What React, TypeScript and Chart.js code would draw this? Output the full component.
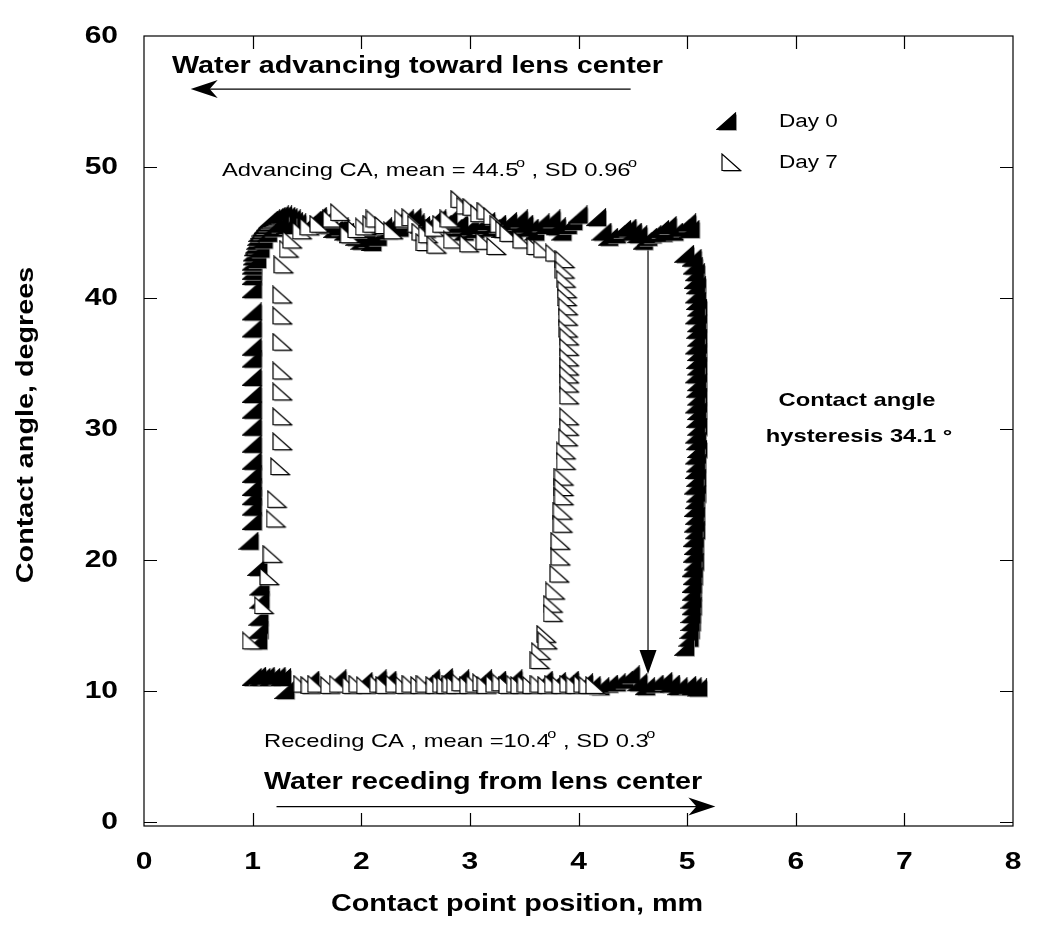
import React, { useEffect, useRef } from "react";
import { Chart, registerables } from "chart.js";

Chart.register(...registerables);

const xTicks = [0, 1, 2, 3, 4, 5, 6, 7, 8];
const yTicks = [0, 10, 20, 30, 40, 50, 60];
const seriesNames = ["Day 0", "Day 7"];

// Day 0 (filled markers)
const day0Left: [number, number][] = [
  [1.0, 41.6], [1.0, 42.0], [1.0, 42.4], [1.0, 42.7], [1.01, 43.1], [1.01, 43.4], [1.02, 43.8],
  [1.03, 44.0], [1.04, 44.3], [1.05, 44.6], [1.06, 44.9], [1.08, 45.1], [1.09, 45.3], [1.11, 45.5],
  [1.13, 45.7], [1.15, 45.9], [1.17, 46.0], [1.2, 46.1], [1.22, 46.2], [1.25, 46.3], [1.28, 46.3],
  [1.31, 46.2], [1.33, 46.1], [1.36, 46.0], [1.38, 45.8], [1.41, 45.7],
  [1.04, 42.9], [1.07, 43.7], [1.1, 44.4], [1.14, 44.9], [1.19, 45.3], [1.25, 45.6], [1.32, 45.5],
  [1.0, 40.6], [1.0, 38.9], [1.0, 37.6], [1.0, 36.2], [1.0, 35.3], [1.0, 33.9], [1.0, 32.6],
  [1.0, 31.4], [1.0, 30.1], [1.0, 28.8], [1.0, 27.5], [1.0, 26.5], [1.0, 25.5], [1.0, 24.8],
  [1.0, 24.0], [1.0, 22.9], [0.97, 21.4], [1.05, 19.4], [1.07, 17.9], [1.07, 16.9], [1.06, 15.6],
  [1.06, 14.6], [1.05, 13.8],
];
const day0Top: [number, number][] = [
  [1.5, 45.5], [1.55, 45.9], [1.6, 46.2], [1.65, 45.8], [1.7, 45.5], [1.75, 45.2], [1.8, 45.4],
  [1.85, 45.0], [1.9, 44.8], [1.95, 44.6], [2.0, 44.3], [2.05, 44.5], [2.1, 44.2], [2.15, 44.6],
  [2.2, 45.4], [2.25, 45.1], [2.3, 45.7], [2.35, 45.3], [2.4, 46.0], [2.47, 46.1], [2.5, 45.7],
  [2.55, 45.5], [2.6, 45.2], [2.65, 45.8], [2.7, 46.0], [2.75, 45.6], [2.8, 45.9], [2.85, 45.3],
  [2.9, 45.6], [2.95, 45.0], [3.0, 45.4], [3.05, 45.2], [3.1, 45.5], [3.15, 45.8], [3.2, 45.3],
  [3.25, 45.6], [3.3, 45.2], [3.35, 45.8], [3.4, 45.1], [3.45, 46.0], [3.5, 45.6], [3.55, 45.3],
  [3.6, 45.0], [3.65, 45.7], [3.7, 45.5], [3.75, 46.0], [3.8, 45.4], [3.85, 45.0], [3.9, 45.5],
  [3.95, 45.8], [4.0, 46.3],
  [4.17, 46.1], [4.22, 45.0], [4.28, 44.6], [4.35, 44.8], [4.4, 45.2], [4.45, 45.3], [4.5, 45.0],
  [4.55, 44.8], [4.6, 44.3], [4.64, 44.6], [4.68, 44.8], [4.75, 45.2], [4.78, 44.9], [4.82, 45.5],
  [4.88, 45.0], [4.95, 45.3], [5.0, 45.7], [5.03, 45.2],
];
const day0Right: [number, number][] = [
  [4.98, 43.3], [5.05, 43.0], [5.06, 42.4], [5.08, 41.9], [5.07, 41.3], [5.09, 40.9], [5.08, 40.2],
  [5.09, 39.7], [5.1, 39.2], [5.08, 38.6], [5.1, 38.0], [5.09, 37.5], [5.1, 36.9], [5.08, 36.3],
  [5.1, 35.8], [5.09, 35.2], [5.1, 34.7], [5.08, 34.1], [5.1, 33.5], [5.09, 33.0], [5.1, 32.4],
  [5.08, 31.8], [5.1, 31.3], [5.09, 30.7], [5.1, 30.1], [5.08, 29.5], [5.09, 29.0], [5.1, 28.4],
  [5.08, 27.9], [5.09, 27.3], [5.08, 26.8], [5.09, 26.2], [5.07, 25.6], [5.09, 25.0], [5.08, 24.5],
  [5.07, 23.9], [5.08, 23.3], [5.07, 22.7], [5.08, 22.2], [5.06, 21.6], [5.07, 21.0], [5.06, 20.4],
  [5.07, 19.8], [5.05, 19.3], [5.06, 18.7], [5.05, 18.1], [5.05, 17.5], [5.04, 16.9], [5.05, 16.4],
  [5.04, 15.8], [5.04, 15.2], [5.03, 14.6], [5.02, 14.0], [4.98, 13.3],
];
const day0Bottom: [number, number][] = [
  [1.0, 11.0], [1.04, 11.1], [1.08, 11.0], [1.12, 11.1], [1.17, 11.0], [1.22, 11.1], [1.27, 11.0],
  [1.3, 10.0], [1.53, 10.8], [1.78, 10.9], [2.02, 10.7], [2.15, 10.9], [2.24, 10.8], [2.64, 10.9],
  [2.76, 11.0], [2.91, 10.9], [3.12, 10.9], [3.25, 10.8], [3.4, 10.9], [3.68, 10.8], [3.8, 10.7],
  [3.92, 10.8], [4.05, 10.6], [4.12, 10.4], [4.2, 10.3], [4.28, 10.5], [4.35, 10.6], [4.42, 10.8],
  [4.48, 11.2], [4.55, 10.6], [4.62, 10.3], [4.7, 10.5], [4.78, 10.7], [4.85, 10.5], [4.92, 10.3],
  [5.0, 10.4], [5.05, 10.3], [5.1, 10.2],
];

// Day 7 (open markers)
const day7Left: [number, number][] = [
  [1.0, 13.8], [1.11, 16.5], [1.16, 18.7], [1.19, 20.4], [1.22, 23.1], [1.23, 24.6], [1.26, 27.1],
  [1.28, 29.0], [1.28, 30.9], [1.28, 32.8], [1.28, 34.4], [1.28, 36.6], [1.28, 38.6], [1.28, 40.2],
  [1.29, 42.5],
];
const day7Top: [number, number][] = [
  [1.34, 43.7], [1.37, 44.4], [1.46, 45.1], [1.53, 45.4], [1.62, 45.6], [1.74, 46.0], [1.81, 46.5],
  [1.9, 44.8], [1.97, 45.2], [2.04, 45.4], [2.11, 45.6], [2.14, 46.0], [2.22, 45.5], [2.3, 45.1],
  [2.4, 46.0], [2.47, 46.1], [2.52, 45.6], [2.56, 45.0], [2.6, 44.2], [2.62, 44.8], [2.68, 45.3],
  [2.7, 44.0], [2.75, 45.6], [2.82, 46.0], [2.85, 44.4], [2.92, 47.5], [2.97, 47.0], [3.0, 44.1],
  [3.03, 46.9], [3.1, 46.4], [3.15, 44.3], [3.16, 46.6], [3.22, 46.2], [3.25, 43.9], [3.28, 45.6],
  [3.33, 45.2], [3.37, 44.9], [3.49, 44.4], [3.62, 43.9], [3.68, 43.7], [3.79, 43.4], [3.88, 42.9],
];
const day7Right: [number, number][] = [
  [3.88, 42.1], [3.89, 41.4], [3.9, 40.6], [3.9, 40.0], [3.91, 39.3], [3.91, 38.5], [3.91, 37.6],
  [3.92, 37.0], [3.92, 36.2], [3.92, 35.4], [3.92, 34.7], [3.92, 34.1], [3.92, 33.4], [3.92, 32.5],
  [3.92, 30.9], [3.92, 30.1], [3.91, 29.3], [3.89, 28.3], [3.89, 27.5], [3.87, 26.3], [3.87, 25.5],
  [3.87, 24.8], [3.86, 23.7], [3.86, 22.7], [3.84, 21.4], [3.84, 20.2], [3.83, 18.9], [3.79, 17.6],
  [3.77, 16.6], [3.77, 15.9], [3.71, 14.3], [3.72, 13.8], [3.66, 13.0], [3.65, 12.3],
];
const day7Bottom: [number, number][] = [
  [1.47, 10.5], [1.54, 10.4], [1.6, 10.5], [1.72, 10.4], [1.8, 10.5], [1.92, 10.4], [1.98, 10.5],
  [2.05, 10.4], [2.17, 10.5], [2.23, 10.4], [2.32, 10.5], [2.41, 10.4], [2.47, 10.5], [2.55, 10.4],
  [2.6, 10.5], [2.69, 10.4], [2.75, 10.5], [2.79, 10.4], [2.84, 10.5], [2.88, 10.4], [2.93, 10.6],
  [3.0, 10.4], [3.06, 10.5], [3.12, 10.6], [3.16, 10.4], [3.24, 10.5], [3.3, 10.6], [3.36, 10.4],
  [3.43, 10.5], [3.47, 10.4], [3.53, 10.5], [3.58, 10.4], [3.65, 10.5], [3.72, 10.4], [3.78, 10.5],
  [3.85, 10.4], [3.92, 10.5], [3.98, 10.4], [4.05, 10.5], [4.1, 10.4], [4.16, 10.4],
];

const FONT = "'Liberation Sans', Arial, Helvetica, sans-serif";
const SX = 1.25; // horizontal stretch of the reference lettering

function toPts(...groups: [number, number][][]) {
  const out: { x: number; y: number }[] = [];
  groups.forEach((g) => g.forEach(([x, y]) => out.push({ x, y })));
  return out;
}

function makeMarker(filled: boolean): HTMLCanvasElement {
  const c = document.createElement("canvas");
  c.width = 22;
  c.height = 20;
  const g = c.getContext("2d")!;
  const tri = filled
    ? [[19.5, 1], [19.5, 17.5], [1, 17.5]]
    : [[1, 1], [1, 17.5], [19.5, 17.5]];
  const path = (dx: number) => {
    g.beginPath();
    tri.forEach(([x, y], i) => (i ? g.lineTo(x + dx, y + dx) : g.moveTo(x + dx, y + dx)));
    g.closePath();
  };
  path(1.3);
  g.fillStyle = "#8c8c8c";
  g.fill();
  path(0);
  g.fillStyle = filled ? "#000" : "#fff";
  g.fill();
  g.strokeStyle = "#000";
  g.lineWidth = 1.2;
  g.stroke();
  return c;
}

function sText(
  ctx: CanvasRenderingContext2D, text: string, x: number, y: number, font: string,
  align: CanvasTextAlign = "left", baseline: CanvasTextBaseline = "middle", rot = 0,
) {
  ctx.save();
  ctx.translate(x, y);
  if (rot) ctx.rotate(rot);
  ctx.scale(SX, 1);
  ctx.font = font;
  ctx.textAlign = align;
  ctx.textBaseline = baseline;
  ctx.fillText(text, 0, 0);
  ctx.restore();
}

function drawSupText(ctx: CanvasRenderingContext2D, parts: { t: string; sup?: boolean }[], x: number, y: number, size: number) {
  ctx.save();
  ctx.translate(x, y);
  ctx.scale(SX, 1);
  let cx = 0;
  ctx.textBaseline = "alphabetic";
  ctx.textAlign = "left";
  parts.forEach((p) => {
    if (p.sup) {
      ctx.font = `${Math.round(size * 0.7)}px ${FONT}`;
      ctx.fillText(p.t, cx - 2, -size * 0.45);
      cx += ctx.measureText(p.t).width - 2;
    } else {
      ctx.font = `${size}px ${FONT}`;
      ctx.fillText(p.t, cx, 0);
      cx += ctx.measureText(p.t).width;
    }
  });
  ctx.restore();
}

function arrowHead(ctx: CanvasRenderingContext2D, tx: number, ty: number, dir: "left" | "right" | "down") {
  ctx.beginPath();
  if (dir === "left") {
    ctx.moveTo(tx, ty);
    ctx.lineTo(tx + 27, ty - 9);
    ctx.lineTo(tx + 19, ty);
    ctx.lineTo(tx + 27, ty + 9);
  } else if (dir === "right") {
    ctx.moveTo(tx, ty);
    ctx.lineTo(tx - 27, ty - 9);
    ctx.lineTo(tx - 19, ty);
    ctx.lineTo(tx - 27, ty + 9);
  } else {
    ctx.moveTo(tx, ty);
    ctx.lineTo(tx - 8.5, ty - 24);
    ctx.lineTo(tx + 8.5, ty - 24);
  }
  ctx.closePath();
  ctx.fill();
}

export default function App() {
  const ref = useRef<HTMLCanvasElement>(null);
  useEffect(() => {
    const m0 = makeMarker(true);
    const m7 = makeMarker(false);
    const decor = {
      id: "decor",
      beforeDatasetsDraw(chart: any) {
        const ctx: CanvasRenderingContext2D = chart.ctx;
        const { left, right, top, bottom } = chart.chartArea;
        const xs = chart.scales.x;
        const ys = chart.scales.y;
        ctx.save();
        ctx.strokeStyle = "#000";
        ctx.fillStyle = "#000";
        ctx.lineWidth = 1.2;
        ctx.strokeRect(left, top, right - left, bottom - top);
        const tl = 13;
        ctx.beginPath();
        xTicks.slice(1, -1).forEach((v) => {
          const px = Math.round(xs.getPixelForValue(v)) + 0.5;
          ctx.moveTo(px, bottom);
          ctx.lineTo(px, bottom - tl);
          ctx.moveTo(px, top);
          ctx.lineTo(px, top + tl);
        });
        yTicks.slice(0, -1).forEach((v) => {
          const py = Math.round(ys.getPixelForValue(v)) + 0.5;
          ctx.moveTo(left, py);
          ctx.lineTo(left + tl, py);
          ctx.moveTo(right, py);
          ctx.lineTo(right - tl, py);
        });
        ctx.stroke();
        // tick labels
        ctx.fillStyle = "#000";
        const tf = `bold 24px ${FONT}`;
        xTicks.forEach((v) => sText(ctx, String(v), xs.getPixelForValue(v), 862, tf, "center"));
        yTicks.forEach((v) => sText(ctx, String(v), 118, ys.getPixelForValue(v), tf, "right"));
        // axis titles
        sText(ctx, "Contact point position, mm", 517, 905, `bold 23px ${FONT}`, "center");
        sText(ctx, "Contact angle, degrees", 27, 425, `bold 23px ${FONT}`, "center", "middle", -Math.PI / 2);
        // arrows
        ctx.lineWidth = 1.2;
        const ay = ys.getPixelForValue(55.95);
        const a1 = xs.getPixelForValue(4.48);
        const a2 = xs.getPixelForValue(0.43);
        ctx.beginPath();
        ctx.moveTo(a1, ay);
        ctx.lineTo(a2 + 10, ay);
        ctx.stroke();
        arrowHead(ctx, a2, ay, "left");
        const by = ys.getPixelForValue(1.18);
        const b1 = xs.getPixelForValue(1.22);
        const b2 = xs.getPixelForValue(5.26);
        ctx.beginPath();
        ctx.moveTo(b1, by);
        ctx.lineTo(b2 - 10, by);
        ctx.stroke();
        arrowHead(ctx, b2, by, "right");
        const hx = xs.getPixelForValue(4.64);
        const h1 = ys.getPixelForValue(44);
        const h2 = ys.getPixelForValue(11.3);
        ctx.beginPath();
        ctx.moveTo(hx, h1);
        ctx.lineTo(hx, h2 - 10);
        ctx.stroke();
        arrowHead(ctx, hx, h2, "down");
        ctx.restore();
      },
      afterDraw(chart: any) {
        const ctx: CanvasRenderingContext2D = chart.ctx;
        ctx.save();
        ctx.fillStyle = "#000";
        sText(ctx, "Water advancing toward lens center", 172, 67, `bold 23px ${FONT}`);
        sText(ctx, "Water receding from lens center", 264, 783, `bold 23px ${FONT}`);
        drawSupText(ctx, [
          { t: "Advancing CA, mean = 44.5" }, { t: "o", sup: true }, { t: " , SD 0.96" }, { t: "o", sup: true },
        ], 222, 176, 19);
        drawSupText(ctx, [
          { t: "Receding CA , mean =10.4" }, { t: "o", sup: true }, { t: " , SD 0.3" }, { t: "o", sup: true },
        ], 264, 747, 19);
        sText(ctx, "Contact angle", 857, 401, `bold 19px ${FONT}`, "center");
        sText(ctx, "hysteresis 34.1 °", 859, 437, `bold 19px ${FONT}`, "center");
        // legend
        ctx.drawImage(m0, 727 - 11, 122 - 10);
        ctx.drawImage(m7, 732 - 11, 163 - 10);
        sText(ctx, seriesNames[0], 779, 122, `18px ${FONT}`);
        sText(ctx, seriesNames[1], 779, 163, `18px ${FONT}`);
        ctx.restore();
      },
    };

    const chart = new Chart(ref.current!, {
      type: "scatter",
      data: {
        datasets: [
          {
            label: seriesNames[1],
            data: toPts(day7Left, day7Top, day7Right, day7Bottom),
            pointStyle: m7 as any,
            pointRadius: 9,
            showLine: false,
          },
          {
            label: seriesNames[0],
            data: toPts(day0Left, day0Top, day0Right, day0Bottom),
            pointStyle: m0 as any,
            pointRadius: 9,
            showLine: false,
          },
        ],
      },
      options: {
        responsive: false,
        animation: false,
        layout: { padding: { left: 0, top: 36, right: 37, bottom: 0 } },
        plugins: { legend: { display: false }, tooltip: { enabled: false } },
        scales: {
          x: {
            type: "linear",
            min: 0,
            max: 8,
            grid: { display: false, drawTicks: false, tickLength: 0 },
            border: { display: false },
            afterBuildTicks: (s: any) => {
              s.ticks = xTicks.map((v) => ({ value: v }));
            },
            afterFit: (s: any) => {
              s.height = 112;
            },
            ticks: { display: false },
            title: { display: false },
          },
          y: {
            type: "linear",
            min: -0.3,
            max: 60,
            grid: { display: false, drawTicks: false, tickLength: 0 },
            border: { display: false },
            afterBuildTicks: (s: any) => {
              s.ticks = yTicks.map((v) => ({ value: v }));
            },
            afterFit: (s: any) => {
              s.width = 144;
            },
            ticks: { display: false },
            title: { display: false },
          },
        },
      },
      plugins: [decor],
    });
    return () => chart.destroy();
  }, []);

  return (
    <div style={{ position: "fixed", left: 0, top: 0, width: 1050, height: 938, background: "#fff" }}>
      <canvas ref={ref} width={1050} height={938} style={{ width: 1050, height: 938 }} />
    </div>
  );
}
